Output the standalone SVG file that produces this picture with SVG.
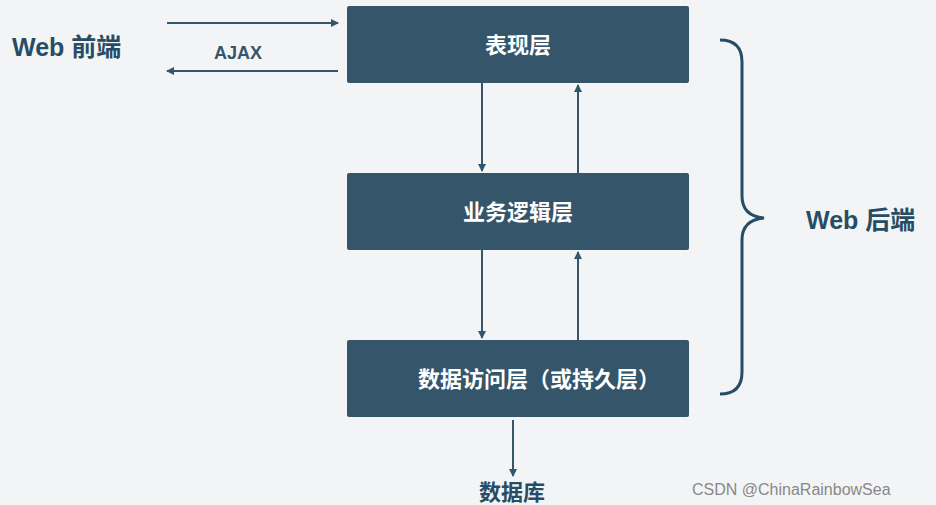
<svg xmlns="http://www.w3.org/2000/svg" width="936" height="505" viewBox="0 0 936 505">
<style>
.box{fill:#34556a}
.bt{font-family:"Noto Sans CJK SC",sans-serif;font-weight:bold;font-size:22px;fill:#ffffff;text-anchor:middle}
.lt{font-family:"Liberation Sans","Noto Sans CJK SC",sans-serif;font-weight:bold;font-size:25px;fill:#274d66}
.ln{stroke:#34556a;stroke-width:2;fill:none}
</style>
<defs><marker id="a" markerWidth="8" markerHeight="8" refX="7" refY="4" orient="auto" markerUnits="userSpaceOnUse"><path d="M0,0L8,4L0,8z" fill="#34556a"/></marker></defs>
<rect width="936" height="505" fill="#f3f4f5"/>
<g id="n1"><rect class="box" x="347" y="6" width="342" height="77" rx="2"/><text class="bt" x="518" y="53">表现层</text></g>
<g id="n2"><rect class="box" x="347" y="173" width="342" height="77" rx="2"/><text class="bt" x="518" y="220">业务逻辑层</text></g>
<g id="n3"><rect class="box" x="347" y="340" width="342" height="77" rx="2"/><text class="bt" x="539" y="387">数据访问层（或持久层）</text></g>
<g id="labels">
<text class="lt" x="12" y="56">Web 前端</text>
<text x="238" y="59" font-family="Liberation Sans,sans-serif" font-weight="bold" font-size="18" fill="#34556a" text-anchor="middle">AJAX</text>
<text class="lt" x="806" y="229">Web 后端</text>
<text x="512" y="500" font-family="Noto Sans CJK SC,sans-serif" font-weight="bold" font-size="22" fill="#274d66" text-anchor="middle">数据库</text>
<text x="692" y="495" font-family="Liberation Sans,sans-serif" font-size="16" fill="#888">CSDN @ChinaRainbowSea</text>
</g>
<g id="connectors">
<line class="ln" x1="167" y1="23" x2="338" y2="23" marker-end="url(#a)"/>
<line class="ln" x1="338" y1="71" x2="167" y2="71" marker-end="url(#a)"/>
<line class="ln" x1="482" y1="83" x2="482" y2="171" marker-end="url(#a)"/>
<line class="ln" x1="578" y1="173" x2="578" y2="85" marker-end="url(#a)"/>
<line class="ln" x1="482" y1="250" x2="482" y2="338" marker-end="url(#a)"/>
<line class="ln" x1="578" y1="340" x2="578" y2="252" marker-end="url(#a)"/>
<line class="ln" x1="513" y1="420" x2="513" y2="476" marker-end="url(#a)"/>
<path d="M720,40 Q742,40 742,62 L742,196 Q742,216 764,218 Q742,220 742,240 L742,372 Q742,394 720,394" stroke="#274d66" stroke-width="3" fill="none"/>
</g>
</svg>
